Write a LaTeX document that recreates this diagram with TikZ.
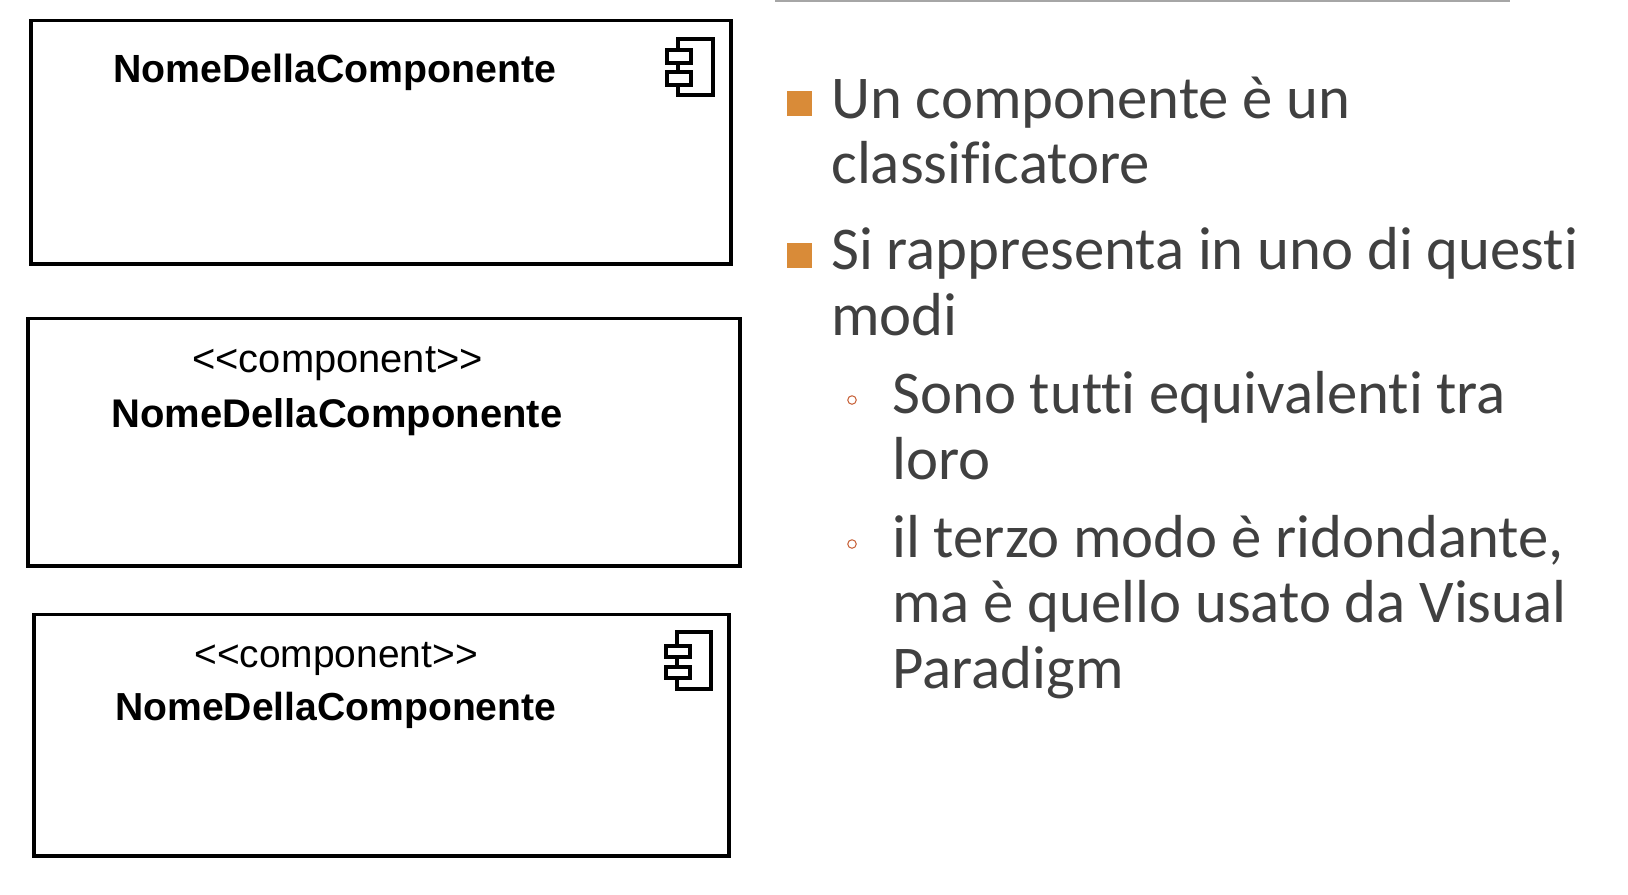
\documentclass[tikz,border=0pt]{standalone}
\usepackage{fontspec}
\setmainfont[Ligatures=NoCommon]{Carlito}
\newfontfamily\umlfont{Liberation Sans}
\definecolor{bodygray}{HTML}{404040}
\definecolor{rulegray}{HTML}{A6A6A6}
\definecolor{squareorange}{HTML}{D98B38}
\definecolor{ringorange}{HTML}{C8643C}
\tikzset{
  compbox/.style={line width=1.85pt,line join=miter,black},
  iconline/.style={line width=1.8pt,line join=miter,black,fill=white},
  nametext/.style={anchor=base west,inner sep=0pt,font=\umlfont\bfseries\fontsize{#1}{#1}\selectfont},
  stereotext/.style={anchor=base west,inner sep=0pt,font=\umlfont\fontsize{#1}{#1}\selectfont},
  bodytext/.style={anchor=base west,inner sep=0pt,text=bodygray,font=\fontsize{34.57pt}{37pt}\selectfont},
  squarebullet/.style={inner sep=0pt,minimum size=0.5cm,fill=squareorange},
  ringbullet/.style={circle,inner sep=0pt,minimum size=0.17cm,draw=ringorange,line width=0.6pt}
}

\begin{document}
\begin{tikzpicture}[x=0.02cm,y=-0.02cm]
\useasboundingbox (0,0) rectangle (1628,894);

\draw [rulegray,line width=1.2pt] (775,0.5)-- (1510,0.5);

% first box
\draw [compbox] (31,20.5) rectangle (731,264);
\node [nametext=22.36pt] (nameone) at (113,82) {NomeDellaComponente};
\draw [iconline] (678,39) rectangle (713,95);
\draw [iconline] (667,50) rectangle (691,63);
\draw [iconline] (667,72) rectangle (691,85);

% second box
\draw [compbox] (28,318.5) rectangle (740,566);
\node [stereotext=22.7pt] (stereotwo) at (192,372) {<{}<component>{}>};
\node [nametext=22.76pt] (nametwo) at (111,427) {NomeDellaComponente};

% third box
\draw [compbox] (34,614.5) rectangle (729,856);
\node [stereotext=22.15pt] (stereothree) at (194,667) {<{}<component>{}>};
\node [nametext=22.25pt] (namethree) at (115,720) {NomeDellaComponente};
\draw [iconline] (677,632) rectangle (711,689);
\draw [iconline] (666,646) rectangle (690,657);
\draw [iconline] (666,667) rectangle (690,678);

% right column
\node [squarebullet] (squareone) at (799.5,103.5) {};
\node [bodytext] (lineone) at (831,118) {Un componente è un};
\node [bodytext] (linetwo) at (831,183) {classificatore};
\node [squarebullet] (squaretwo) at (799.5,255.5) {};
\node [bodytext] (linethree) at (831,269) {Si rappresenta in uno di questi};
\node [bodytext] (linefour) at (831,335) {modi};
\node [ringbullet] (ringone) at (852,400) {};
\node [bodytext] (linefive) at (892,413) {Sono tutti equivalenti tra};
\node [bodytext] (linesix) at (892,479) {loro};
\node [ringbullet] (ringtwo) at (852,544) {};
\node [bodytext] (lineseven) at (892,557) {il terzo modo è ridondante,};
\node [bodytext] (lineeight) at (892,622.5) {ma è quello usato da Visual};
\node [bodytext] (linenine) at (892,688) {Paradigm};
\end{tikzpicture}
\end{document}
